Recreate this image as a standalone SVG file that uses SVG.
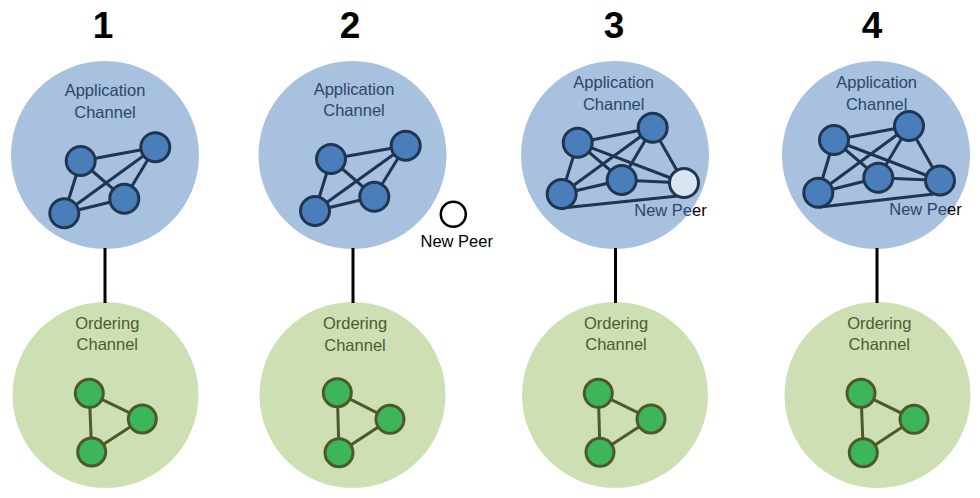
<svg xmlns="http://www.w3.org/2000/svg" width="980" height="498" viewBox="0 0 980 498">
<style>
.bg{fill:#ffffff}
.app{fill:#a7c1df}
.ord{fill:#cfdfb4}
.title{font-family:"Liberation Sans",Arial,sans-serif;font-weight:bold;font-size:37px;fill:#000;text-anchor:middle}
.lbl{font-family:"Liberation Sans",Arial,sans-serif;font-size:16.5px;text-anchor:middle}
.albl{fill:#2d4669}
.olbl{fill:#4d5b32}
.np{font-family:"Liberation Sans",Arial,sans-serif;font-size:16.5px;text-anchor:middle;fill:#000}
.bpeer{fill:#4a7ebb;stroke:#1f3552;stroke-width:3}
.lpeer{fill:#dbe5f1;stroke:#1f3552;stroke-width:3}
.gpeer{fill:#3db65a;stroke:#4b5a2a;stroke-width:3}
.newpeer{fill:#ffffff;stroke:#000;stroke-width:2.5}
.be{stroke:#1f3552;stroke-width:3;fill:none}
.ge{stroke:#4b5a2a;stroke-width:3;fill:none}
.vc{stroke:#000;stroke-width:3}
</style>
<rect class="bg" x="0" y="0" width="980" height="498"/>

<g id="titles">
<text class="title" x="103" y="38">1</text>
<text class="title" x="350" y="38">2</text>
<text class="title" x="614" y="38">3</text>
<text class="title" x="872" y="38">4</text>
</g>

<g id="app1"><circle class="app" cx="105" cy="155" r="94"/></g>
<g id="app2"><circle class="app" cx="352.5" cy="155" r="94"/></g>
<g id="app3"><circle class="app" cx="615" cy="155" r="94"/></g>
<g id="app4"><circle class="app" cx="876" cy="155" r="94"/></g>
<g id="ord1"><circle class="ord" cx="105.5" cy="395" r="93"/></g>
<g id="ord2"><circle class="ord" cx="352.5" cy="395" r="93"/></g>
<g id="ord3"><circle class="ord" cx="615" cy="395" r="93"/></g>
<g id="ord4"><circle class="ord" cx="877.5" cy="395" r="93"/></g>

<g id="connectors">
<line class="vc" x1="105" y1="248" x2="105" y2="303"/>
<line class="vc" x1="353" y1="248" x2="353" y2="303"/>
<line class="vc" x1="615.5" y1="248" x2="615.5" y2="303"/>
<line class="vc" x1="877" y1="248" x2="877" y2="303"/>
<!-- panel 1 mesh -->
<line class="be" x1="80.7" y1="161" x2="155.3" y2="147.3"/>
<line class="be" x1="80.7" y1="161" x2="64.3" y2="213.3"/>
<line class="be" x1="80.7" y1="161" x2="124.3" y2="198.7"/>
<line class="be" x1="64.3" y1="213.3" x2="155.3" y2="147.3"/>
<line class="be" x1="64.3" y1="213.3" x2="124.3" y2="198.7"/>
<line class="be" x1="124.3" y1="198.7" x2="155.3" y2="147.3"/>
<!-- panel 2 mesh -->
<line class="be" x1="331" y1="159" x2="405.7" y2="145.7"/>
<line class="be" x1="331" y1="159" x2="315" y2="211"/>
<line class="be" x1="331" y1="159" x2="374.3" y2="196.7"/>
<line class="be" x1="315" y1="211" x2="405.7" y2="145.7"/>
<line class="be" x1="315" y1="211" x2="374.3" y2="196.7"/>
<line class="be" x1="374.3" y1="196.7" x2="405.7" y2="145.7"/>
<!-- panel 3 mesh -->
<line class="be" x1="577.7" y1="142.7" x2="652.7" y2="127.7"/>
<line class="be" x1="577.7" y1="142.7" x2="561.7" y2="194"/>
<line class="be" x1="577.7" y1="142.7" x2="621.7" y2="180"/>
<line class="be" x1="577.7" y1="142.7" x2="684" y2="183"/>
<line class="be" x1="561.7" y1="194" x2="652.7" y2="127.7"/>
<line class="be" x1="561.7" y1="194" x2="621.7" y2="180"/>
<line class="be" x1="621.7" y1="180" x2="652.7" y2="127.7"/>
<line class="be" x1="621.7" y1="180" x2="684" y2="183"/>
<line class="be" x1="652.7" y1="127.7" x2="684" y2="183"/>
<line class="be" x1="562" y1="208" x2="678" y2="196"/>
<!-- panel 4 mesh -->
<line class="be" x1="834" y1="140" x2="909" y2="126"/>
<line class="be" x1="834" y1="140" x2="818.3" y2="192.7"/>
<line class="be" x1="834" y1="140" x2="878.3" y2="177.7"/>
<line class="be" x1="834" y1="140" x2="940" y2="180.5"/>
<line class="be" x1="818.3" y1="192.7" x2="909" y2="126"/>
<line class="be" x1="818.3" y1="192.7" x2="878.3" y2="177.7"/>
<line class="be" x1="878.3" y1="177.7" x2="909" y2="126"/>
<line class="be" x1="878.3" y1="177.7" x2="940" y2="180.5"/>
<line class="be" x1="909" y1="126" x2="940" y2="180.5"/>
<line class="be" x1="820" y1="207" x2="934" y2="194"/>
<!-- ordering meshes -->
<polygon class="ge" points="89.3,393.3 142.3,419 91.7,452"/>
<polygon class="ge" points="337.3,392.7 390,419.3 339,452.7"/>
<polygon class="ge" points="598.3,393.3 651,419 600,452.3"/>
<polygon class="ge" points="861,393.3 914,419.3 863.3,452.7"/>
</g>

<g id="peers1">
<circle class="bpeer" cx="80.7" cy="161" r="14.5"/>
<circle class="bpeer" cx="155.3" cy="147.3" r="14.5"/>
<circle class="bpeer" cx="124.3" cy="198.7" r="14.5"/>
<circle class="bpeer" cx="64.3" cy="213.3" r="14.5"/>
</g>
<g id="peers2">
<circle class="bpeer" cx="331" cy="159" r="14.5"/>
<circle class="bpeer" cx="405.7" cy="145.7" r="14.5"/>
<circle class="bpeer" cx="374.3" cy="196.7" r="14.5"/>
<circle class="bpeer" cx="315" cy="211" r="14.5"/>
</g>
<g id="newpeer2">
<circle class="newpeer" cx="453.3" cy="214.3" r="12.5"/>
<text class="np" x="456.7" y="246.5">New Peer</text>
</g>
<g id="peers3">
<circle class="bpeer" cx="577.7" cy="142.7" r="14.5"/>
<circle class="bpeer" cx="652.7" cy="127.7" r="14.5"/>
<circle class="bpeer" cx="621.7" cy="180" r="14.5"/>
<circle class="bpeer" cx="561.7" cy="194" r="14.5"/>
</g>
<g id="newpeer3">
<circle class="lpeer" cx="684" cy="183" r="14.5"/>
<text class="np" x="670.5" y="216"><tspan fill="#2d4669">New Pe</tspan>er</text>
</g>
<g id="peers4">
<circle class="bpeer" cx="834" cy="140" r="14.5"/>
<circle class="bpeer" cx="909" cy="126" r="14.5"/>
<circle class="bpeer" cx="878.3" cy="177.7" r="14.5"/>
<circle class="bpeer" cx="818.3" cy="192.7" r="14.5"/>
</g>
<g id="newpeer4">
<circle class="bpeer" cx="940" cy="180.5" r="14.5"/>
<text class="np" x="925.5" y="215"><tspan fill="#2d4669">New Pe</tspan>er</text>
</g>
<g id="orderers">
<circle class="gpeer" cx="89.3" cy="393.3" r="14"/>
<circle class="gpeer" cx="142.3" cy="419" r="14"/>
<circle class="gpeer" cx="91.7" cy="452" r="14"/>
<circle class="gpeer" cx="337.3" cy="392.7" r="14"/>
<circle class="gpeer" cx="390" cy="419.3" r="14"/>
<circle class="gpeer" cx="339" cy="452.7" r="14"/>
<circle class="gpeer" cx="598.3" cy="393.3" r="14"/>
<circle class="gpeer" cx="651" cy="419" r="14"/>
<circle class="gpeer" cx="600" cy="452.3" r="14"/>
<circle class="gpeer" cx="861" cy="393.3" r="14"/>
<circle class="gpeer" cx="914" cy="419.3" r="14"/>
<circle class="gpeer" cx="863.3" cy="452.7" r="14"/>
</g>

<g id="labels">
<text class="lbl albl" x="105" y="96">Application</text>
<text class="lbl albl" x="105" y="117.5">Channel</text>
<text class="lbl albl" x="354" y="94.5">Application</text>
<text class="lbl albl" x="354" y="115.5">Channel</text>
<text class="lbl albl" x="613.7" y="88">Application</text>
<text class="lbl albl" x="613.7" y="110">Channel</text>
<text class="lbl albl" x="876.7" y="87.5">Application</text>
<text class="lbl albl" x="876.7" y="109.5">Channel</text>
<text class="lbl olbl" x="107.3" y="328.5">Ordering</text>
<text class="lbl olbl" x="107.3" y="350">Channel</text>
<text class="lbl olbl" x="355" y="329">Ordering</text>
<text class="lbl olbl" x="355" y="350.5">Channel</text>
<text class="lbl olbl" x="616" y="328.5">Ordering</text>
<text class="lbl olbl" x="616" y="350">Channel</text>
<text class="lbl olbl" x="879.3" y="328.5">Ordering</text>
<text class="lbl olbl" x="879.3" y="350">Channel</text>
</g>
</svg>
